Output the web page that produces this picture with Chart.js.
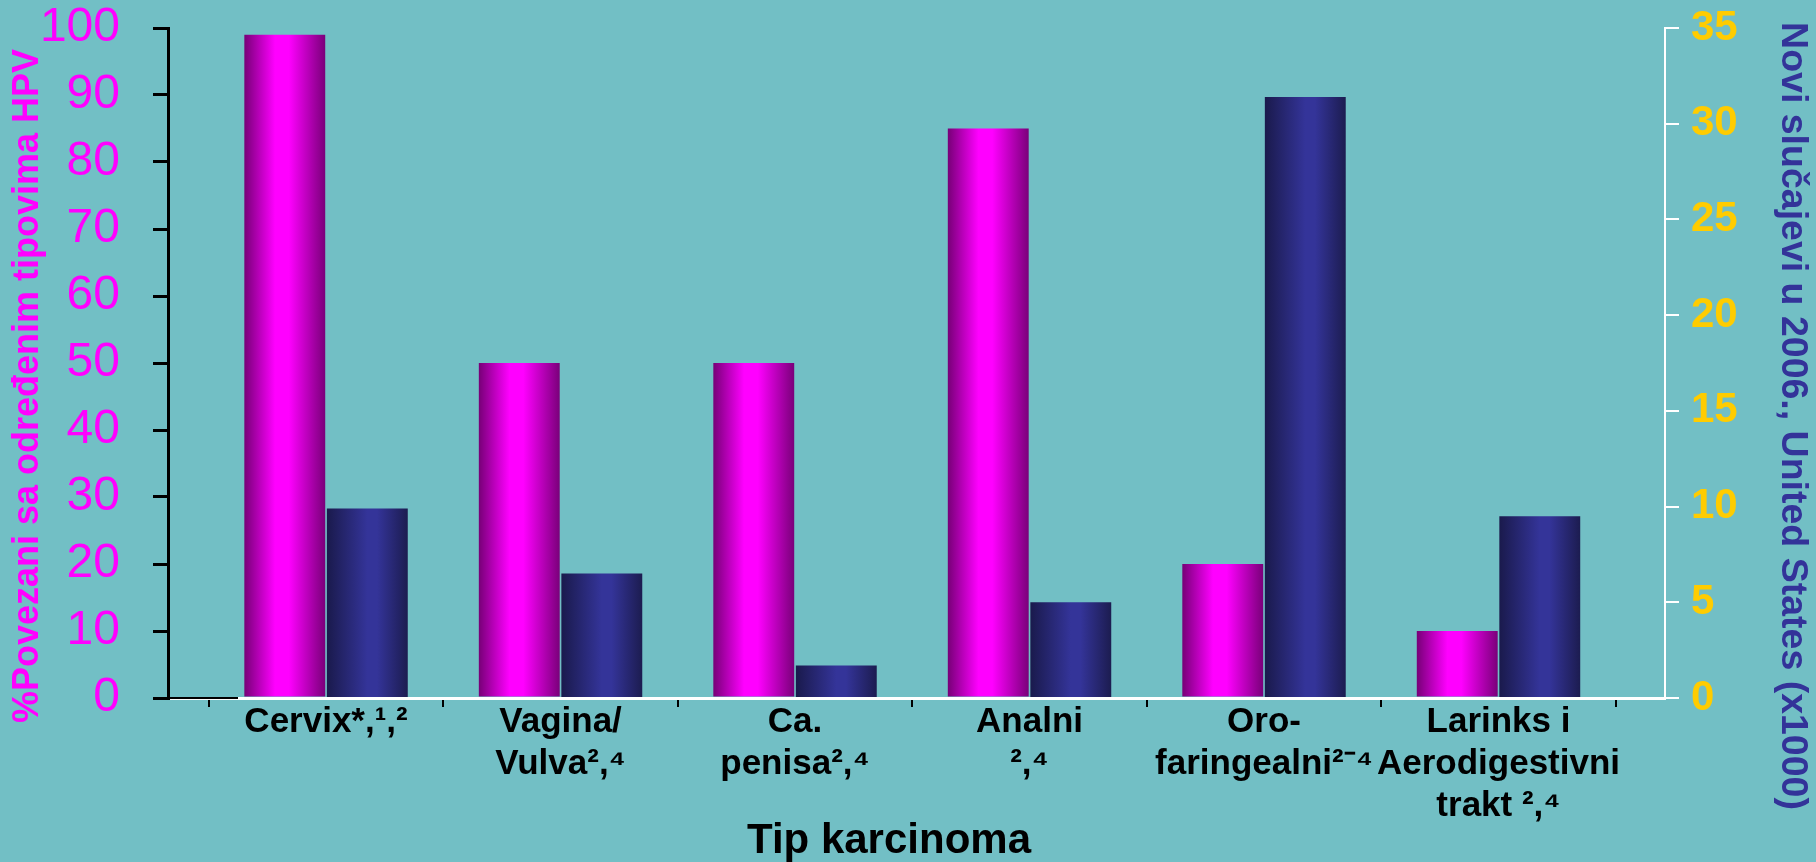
<!DOCTYPE html>
<html>
<head>
<meta charset="utf-8">
<script src="https://cdn.jsdelivr.net/npm/chart.js@4.4.0/dist/chart.umd.min.js"></script>
<style>
  html, body { margin: 0; padding: 0; background: #72bfc5; }
  canvas { display: block; }
</style>
</head>
<body>
<canvas id="hpvChart" width="1816" height="862"></canvas>
<script>
// Tip karcinoma (lines as they stand under the axis)
const categories = [
  ['Cervix*,¹,²'],
  ['Vagina/', 'Vulva²,⁴'],
  ['Ca.', 'penisa²,⁴'],
  ['Analni', '²,⁴'],
  ['Oro-', 'faringealni²⁻⁴'],
  ['Larinks i', 'Aerodigestivni', 'trakt ²,⁴']
];

// % povezani sa HPV (left axis)
const hpvPercent = [99, 50, 50, 85, 20, 10];
// novi slucajevi 2006, x1000 (right axis)
const newCases = [9.9, 6.5, 1.7, 5.0, 31.4, 9.5];

// axis ranges
const leftMax = 100, leftStep = 10;
const rightMax = 35, rightStep = 5;

const leftTitle = '%Povezani sa određenim tipovima HPV';
const rightTitle = 'Novi slučajevi u 2006., United States (x1000)';
const bottomTitle = 'Tip karcinoma';

const font = '"Liberation Sans", Arial, sans-serif';
const bg = '#72bfc5';

// background, bar gradients, axis titles
const decor = {
  id: 'decor',
  beforeDraw(chart) {
    const c = chart.ctx;
    c.save();
    c.fillStyle = bg;
    c.fillRect(0, 0, chart.width, chart.height);
    c.restore();
  },
  beforeDatasetsDraw(chart) {
    const c = chart.ctx;
    const stops = [
      [[0, '#770077'], [0.38, '#ff00ff'], [0.55, '#ff00ff'], [1, '#7a007a']],
      [[0, '#1a1a4c'], [0.5, '#343499'], [0.62, '#343499'], [1, '#1c1c50']]
    ];
    chart.data.datasets.forEach((ds, i) => {
      chart.getDatasetMeta(i).data.forEach(bar => {
        const g = c.createLinearGradient(bar.x - bar.width / 2, 0, bar.x + bar.width / 2, 0);
        stops[i].forEach(s => g.addColorStop(s[0], s[1]));
        bar.options = Object.assign({}, bar.options, { backgroundColor: g });
      });
    });
  },
  afterDraw(chart) {
    const c = chart.ctx;
    const area = chart.chartArea;
    c.save();

    // the black stub of the primary x axis, left of the white one
    c.strokeStyle = '#000000';
    c.lineWidth = 2;
    c.beginPath();
    c.moveTo(area.left - 15, area.bottom);
    c.lineTo(area.left + 70, area.bottom);
    c.stroke();

    c.textAlign = 'center';
    c.textBaseline = 'middle';

    c.fillStyle = '#ff00ff';
    c.font = 'bold 36px ' + font;
    c.save();
    c.translate(28, 386);
    c.rotate(-Math.PI / 2);
    c.fillText(leftTitle, 0, 0);
    c.restore();

    c.fillStyle = '#333399';
    c.font = 'bold 37.5px ' + font;
    c.save();
    c.translate(1792, 416);
    c.rotate(Math.PI / 2);
    c.fillText(rightTitle, 0, 0);
    c.restore();

    c.fillStyle = '#000000';
    c.font = 'bold 42px ' + font;
    c.textBaseline = 'alphabetic';
    c.fillText(bottomTitle, 889, 853);
    c.restore();
  }
};

new Chart(document.getElementById('hpvChart'), {
  type: 'bar',
  data: {
    labels: categories,
    datasets: [
      {
        label: '% HPV',
        data: hpvPercent,
        yAxisID: 'y',
        backgroundColor: '#ff00ff',
        borderWidth: 0
      },
      {
        label: 'Novi slučajevi',
        data: newCases,
        yAxisID: 'y2',
        backgroundColor: '#333399',
        borderWidth: 0
      }
    ]
  },
  options: {
    responsive: false,
    animation: false,
    layout: { padding: { top: 28, left: 0, right: 0, bottom: 0 } },
    plugins: {
      legend: { display: false },
      tooltip: { enabled: false }
    },
    datasets: {
      bar: { categoryPercentage: 0.704, barPercentage: 0.98 }
    },
    scales: {
      x: {
        // groups sit a bit right of the plain category slots, like the original slide
        afterBuildTicks: s => { s._startValue = -0.674; s._valueRange = 6.384; },
        afterFit: s => { s.height = 164; s.paddingLeft = 0; s.paddingRight = 0; },
        border: { display: true, color: '#ffffff', width: 3 },
        grid: { drawOnChartArea: false, color: '#000000', tickLength: 9, lineWidth: 2, offset: true },
        ticks: {
          color: '#000000',
          font: { family: font, size: 35, weight: 'bold', lineHeight: 1.19 },
          maxRotation: 0,
          minRotation: 0,
          autoSkip: false,
          padding: -5
        }
      },
      y: {
        position: 'left',
        min: 0,
        max: leftMax,
        afterFit: s => { s.width = 168; s.paddingTop = 0; s.paddingBottom = 0; },
        border: { display: true, color: '#000000', width: 3 },
        grid: { drawOnChartArea: false, color: '#000000', tickLength: 15, lineWidth: 3 },
        ticks: {
          stepSize: leftStep,
          color: '#ff00ff',
          font: { family: font, size: 48 },
          padding: 33
        }
      },
      y2: {
        position: 'right',
        min: 0,
        max: rightMax,
        afterFit: s => { s.width = 151; s.paddingTop = 0; s.paddingBottom = 0; },
        border: { display: true, color: '#ffffff', width: 2 },
        grid: { drawOnChartArea: false, color: '#ffffff', tickLength: 14, lineWidth: 2 },
        ticks: {
          stepSize: rightStep,
          color: '#ffcc00',
          font: { family: font, size: 42, weight: 'bold' },
          padding: 12
        }
      }
    }
  },
  plugins: [decor]
});
</script>
</body>
</html>
